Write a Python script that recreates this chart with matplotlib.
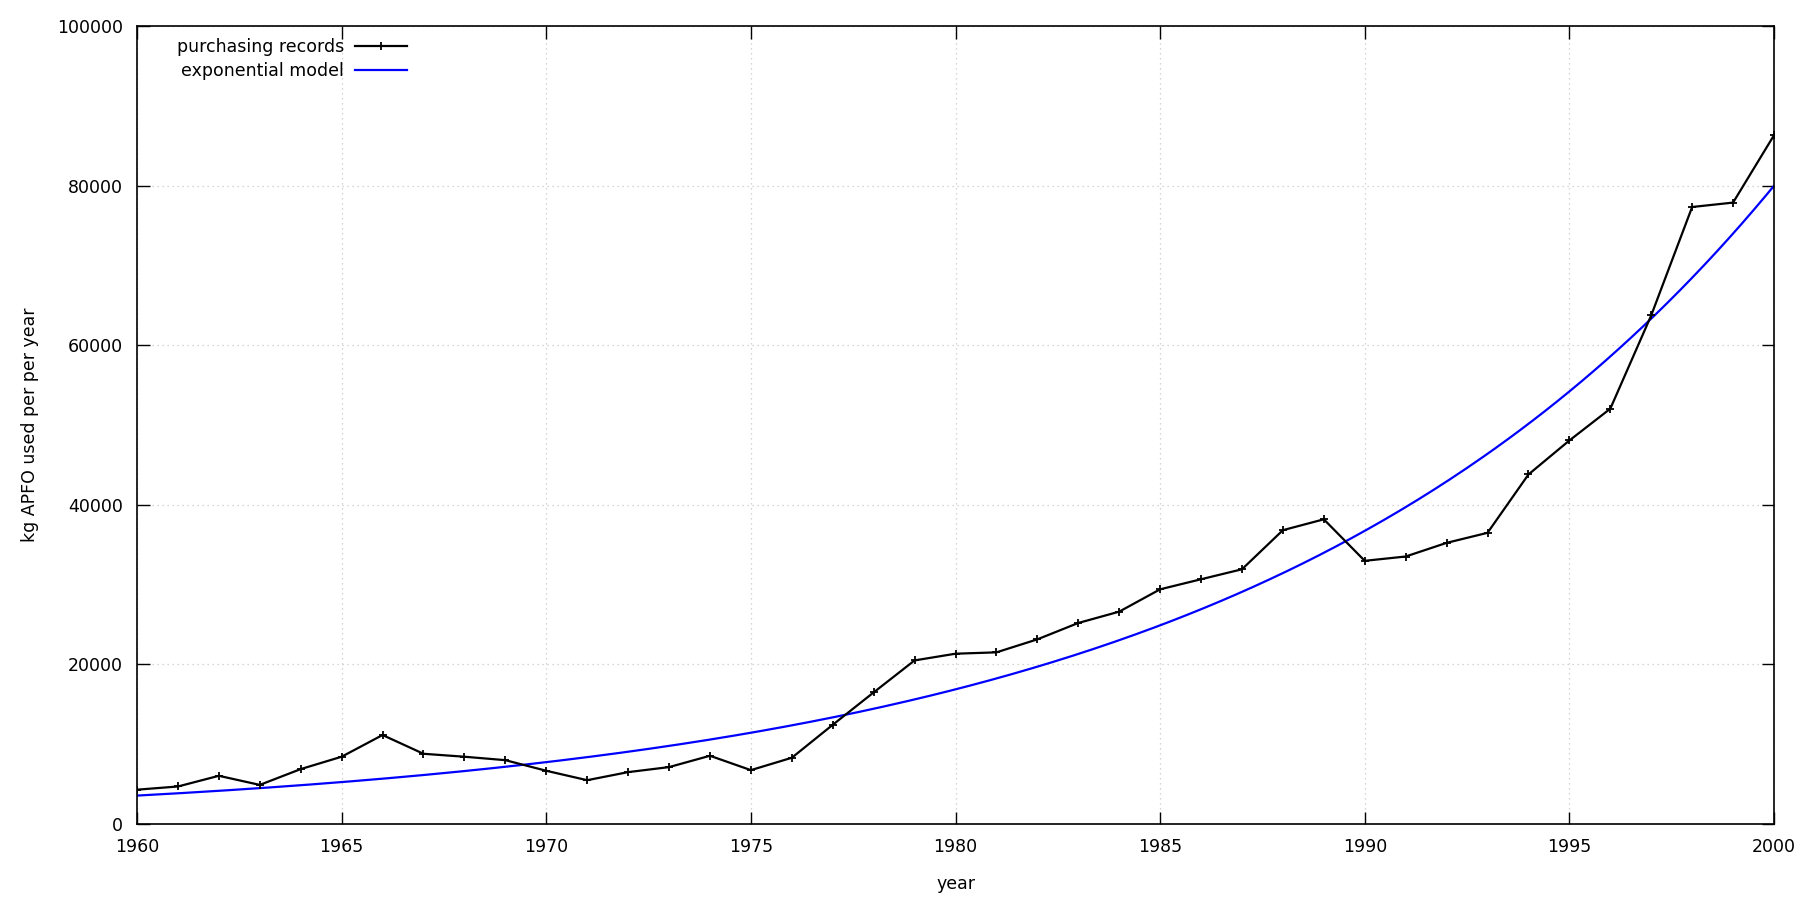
import numpy as np
import matplotlib
matplotlib.use("Agg")
import matplotlib.pyplot as plt

years = list(range(1960, 2001))
records = [4300, 4700, 6040, 4900, 6880, 8430, 11150, 8800, 8430, 8000,
           6670, 5490, 6500, 7130, 8550, 6750, 8300, 12430, 16490, 20500,
           21340, 21510, 23140, 25190, 26610, 29410, 30670, 31920, 36820, 38180,
           32980, 33520, 35230, 36490, 43800, 48060, 52040, 63740, 77320, 77870,
           86310]
model_a = 3560.0     # model value at 1960
model_b = 0.0778     # growth rate per year
xticks = [1960, 1965, 1970, 1975, 1980, 1985, 1990, 1995, 2000]
yticks = [0, 20000, 40000, 60000, 80000, 100000]

FS = 12.5
plt.rcParams['font.family'] = ['DejaVu Sans']
plt.rcParams['font.size'] = FS

fig = plt.figure(figsize=(18.18, 9.13), dpi=100)
ax = fig.add_axes([137/1818, 1-824/913, (1774-137)/1818, (824-26)/913])

t = np.linspace(1960, 2000, 400)
ax.plot(years, records, color='black', lw=1.6, marker='+', ms=5.5, mew=1.3,
        label='purchasing records', zorder=3)
ax.plot(t, model_a*np.exp(model_b*(t-1960)), color='#0000ff', lw=1.6,
        label='exponential model', zorder=2)

ax.set_xlim(1960, 2000)
ax.set_ylim(0, 100000)
ax.set_xticks(xticks)
ax.set_yticks(yticks)
ax.set_xticklabels([str(v) for v in xticks])
ax.set_yticklabels([str(v) for v in yticks])
ax.tick_params(direction='in', length=9, width=1, top=True, right=True,
               labelsize=FS, pad=10, colors='black')
ax.grid(True, color='#c8c8c8', linestyle=(0, (1, 3)), lw=0.9)
for s in ax.spines.values():
    s.set_linewidth(1.2)
ax.set_xlabel('year', fontsize=FS, labelpad=13.5)
ax.set_ylabel('kg APFO used per per year', fontsize=FS, labelpad=13)

leg = ax.legend(loc='upper left', bbox_to_anchor=(0.017, 1.0), frameon=False,
                markerfirst=False, handlelength=3.0, handletextpad=0.6,
                labelspacing=0.33, fontsize=FS, borderaxespad=0.3)

fig.savefig('out.png', dpi=100)
